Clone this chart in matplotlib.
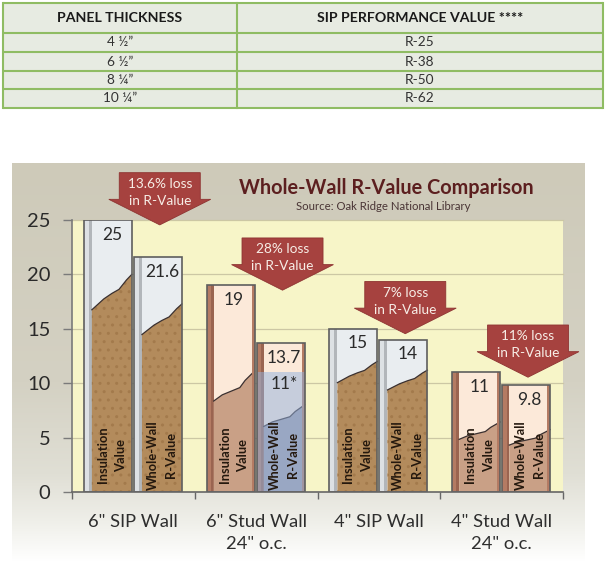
import numpy as np
import matplotlib
matplotlib.use("Agg")
import matplotlib.pyplot as plt
from matplotlib.patches import Rectangle, Polygon
from matplotlib.colors import LinearSegmentedColormap

plt.rcParams['font.family'] = ['Lato', 'DejaVu Sans']

# ---------------- data ----------------
table_headers = ["PANEL THICKNESS", "SIP PERFORMANCE VALUE ****"]
panel_thickness = ["4 ½”", "6 ½”", "8 ¼”", "10 ¼”"]
sip_performance = ["R-25", "R-38", "R-50", "R-62"]

categories = ['6" SIP Wall', '6" Stud Wall\n24" o.c.', '4" SIP Wall', '4" Stud Wall\n24" o.c.']
wall_types = ["sip", "stud", "sip", "stud"]
insulation_value = [25, 19, 15, 11]
whole_wall_value = [21.6, 13.7, 14, 9.8]
insulation_labels = ["25", "19", "15", "11"]
whole_wall_labels = ["21.6", "13.7", "14", "9.8"]
loss_labels = ["13.6% loss", "28% loss", "7% loss", "11% loss"]
stud_note_value = 11
stud_note_label = "11*"
y_ticks = [0, 5, 10, 15, 20, 25]
title = "Whole-Wall R-Value Comparison"
subtitle = "Source: Oak Ridge National Library"
bar_texts = ["Insulation\nValue", "Whole-Wall\nR-Value"]

# decorative fill-line profiles (fraction of bar height across bar width)
sip_profile_x = [0.0, 0.3, 0.5, 0.68, 0.87, 1.0]
sip_profile_y = [0.67, 0.71, 0.73, 0.745, 0.78, 0.80]
stud_profile_x = [0.0, 0.21, 0.64, 0.77, 1.0]
stud_profile_y = [0.44, 0.47, 0.505, 0.54, 0.585]

# ---------------- styles ----------------
W, H = 613, 582
fig = plt.figure(figsize=(W / 100, H / 100), dpi=100)
fig.patch.set_facecolor("white")

bg = fig.add_axes([0, 0, 1, 1], zorder=0)
bg.set_xlim(0, W)
bg.set_ylim(H, 0)
bg.axis("off")

# ---- table ----
tbl_left, tbl_right, tbl_mid = 3, 603, 237
row_edges = [3, 33, 52, 71, 89, 108]
green = "#8fbc63"
bg.add_patch(Rectangle((tbl_left, row_edges[0]), tbl_right - tbl_left,
                       row_edges[-1] - row_edges[0], facecolor="#e7ebe2",
                       edgecolor="none", zorder=1))
for yy in row_edges:
    bg.plot([tbl_left, tbl_right], [yy, yy], color=green, lw=1.5, zorder=2,
            solid_capstyle="butt")
for xx in [tbl_left, tbl_mid, tbl_right]:
    bg.plot([xx, xx], [row_edges[0], row_edges[-1]], color=green, lw=1.5, zorder=2)
c1 = (tbl_left + tbl_mid) / 2
c2 = (tbl_mid + tbl_right) / 2
hy = (row_edges[0] + row_edges[1]) / 2
bg.text(c1, hy, table_headers[0], ha="center", va="center", fontsize=10.2,
        fontweight="bold", color="#1a1a1a", zorder=3)
bg.text(c2, hy, table_headers[1], ha="center", va="center", fontsize=10.2,
        fontweight="bold", color="#1a1a1a", zorder=3)
for i, (a, b) in enumerate(zip(panel_thickness, sip_performance)):
    yy = (row_edges[i + 1] + row_edges[i + 2]) / 2
    bg.text(c1, yy, a, ha="center", va="center", fontsize=9.8, color="#333333", zorder=3)
    bg.text(c2, yy, b, ha="center", va="center", fontsize=9.8, color="#333333", zorder=3)

# ---- chart panel with gradient ----
p_left, p_right, p_top, p_bot = 12, 585, 163, 562
cmap = LinearSegmentedColormap.from_list(
    "panel", [(0.0, "#cecab9"), (0.55, "#d4d1c3"), (0.78, "#e0dfd5"),
              (0.9, "#efefe9"), (1.0, "#ffffff")])
grad = np.linspace(0, 1, 256).reshape(-1, 1)
bg.imshow(grad, cmap=cmap, extent=(p_left, p_right, p_bot, p_top),
          aspect="auto", zorder=0.5, interpolation="bilinear")
bg.set_xlim(0, W)
bg.set_ylim(H, 0)

bg.text(386, 188, title, ha="center", va="center", fontsize=14.3,
        fontweight="bold", color="#5c1f1f", zorder=3)
bg.text(383, 206, subtitle, ha="center", va="center", fontsize=8.2,
        color="#4a3535", zorder=3)

# ---- main axes ----
ax_l, ax_r, ax_t, ax_b = 72, 563, 220, 492
ax = fig.add_axes([ax_l / W, (H - ax_b) / H, (ax_r - ax_l) / W, (ax_b - ax_t) / H],
                  zorder=2)
ax.set_facecolor("#f7f5c8")
ax.set_xlim(0, 4)
ax.set_ylim(0, 25)
for s in ["top", "right"]:
    ax.spines[s].set_visible(False)
ax.spines["left"].set_color("#7a7a7a")
ax.spines["bottom"].set_color("#666666")
ax.spines["left"].set_linewidth(1.2)
ax.spines["bottom"].set_linewidth(1.2)

ax.set_yticks(y_ticks)
ax.set_yticklabels([str(v) for v in y_ticks])
ax.tick_params(axis="y", direction="out", length=6.5, width=1, color="#7a7a7a",
               pad=9, labelsize=14.5, labelcolor="#2a2a2a")
ax.set_xticks(range(len(categories) + 1))
ax.set_xticklabels([])
ax.tick_params(axis="x", which="major", direction="out", length=5, width=1,
               color="#666666")
ax.set_xticks([i + 0.5 for i in range(len(categories))], minor=True)
ax.set_xticklabels(categories, minor=True)
ax.tick_params(axis="x", which="minor", length=0, pad=16, labelsize=13.2,
               labelcolor="#2e2e2e")
for lab in ax.get_xticklabels(minor=True):
    lab.set_linespacing(1.45)
for yv in y_ticks[1:]:
    ax.axhline(yv, color="#ccc7a4", lw=0.9, zorder=0.5, clip_on=False)

bar_w = 0.39
bar_offsets = [0.097, 0.505]

def profile_line(x0, x1, top, px, py):
    xs = [x0 + f * (x1 - x0) for f in px]
    ys = [top * f for f in py]
    return xs, ys

def draw_bar(x0, value, kind, label, vtext, overlay=None):
    if kind == "sip":
        top_c, strip_c, strip2_c, fill_c, hatch_c = "#e9edf0", "#dde1e4", "#b2b6ba", "#b38b5c", "#a37a4c"
        strip_w = 0.065
        px, py = sip_profile_x, sip_profile_y
    else:
        top_c, strip_c, strip2_c, fill_c, hatch_c = "#fce9d9", "#b47b63", "#9a6450", "#c9a086", "#b88a70"
        strip_w = 0.057
        px, py = stud_profile_x, stud_profile_y
    x1 = x0 + bar_w
    ax.add_patch(Rectangle((x0, 0), bar_w, value, facecolor=top_c, edgecolor="none", zorder=2))
    ax.add_patch(Rectangle((x0, 0), strip_w * 0.62, value, facecolor=strip_c, edgecolor="none", zorder=2.1))
    ax.add_patch(Rectangle((x0 + strip_w * 0.62, 0), strip_w * 0.38, value, facecolor=strip2_c,
                           edgecolor="none", zorder=2.1))
    ix0 = x0 + strip_w
    fill_col = fill_c
    if overlay is not None:
        fill_col = "#a29ca6"
    xs, ys = profile_line(ix0, x1, value, px, py)
    poly = [(ix0, 0)] + list(zip(xs, ys)) + [(x1, 0)]
    ax.add_patch(Polygon(poly, closed=True, facecolor=fill_col, edgecolor="none", zorder=2.2))
    if kind == "sip":
        ax.add_patch(Polygon(poly, closed=True, fill=False, hatch="..", edgecolor=hatch_c,
                             linewidth=0, zorder=2.25))
    ax.plot(xs, ys, color="#3a3030", lw=0.9, zorder=2.3)
    if kind == "stud":
        ax.add_patch(Rectangle((x1 - 0.022, 0), 0.022, value, facecolor=strip_c,
                               edgecolor="none", zorder=2.3))
    if overlay is not None:
        ax.add_patch(Rectangle((x0, 0), bar_w, overlay, facecolor="#92b2e0", alpha=0.5,
                               edgecolor="none", zorder=2.4))
        ax.text(ix0 + (x1 - ix0) / 2, overlay - 1.05, stud_note_label, ha="center",
                va="center", fontsize=12.5, color="#2a2a2a", zorder=3)
    ax.add_patch(Rectangle((x0, 0), bar_w, value, facecolor="none", edgecolor="#5e5e5e",
                           lw=1.2, zorder=2.5))
    cx = ix0 + (x1 - ix0) / 2
    ax.text(cx, value - 1.35, label, ha="center", va="center", fontsize=12.5,
            color="#2a2a2a", zorder=3)
    ax.text(cx, 3.4, vtext, ha="center", va="center", rotation=90, fontsize=9.3,
            fontweight="bold", color="#24180e", linespacing=1.65, zorder=3)

for i, kind in enumerate(wall_types):
    draw_bar(i + bar_offsets[0], insulation_value[i], kind, insulation_labels[i], bar_texts[0])
    draw_bar(i + bar_offsets[1], whole_wall_value[i], kind, whole_wall_labels[i], bar_texts[1],
             overlay=stud_note_value if (kind == "stud" and i == 1) else None)

# ---- loss arrows ----
arrow_c = "#a6423f"
body_w, head_w, body_h, head_h = 0.66, 0.83, 2.45, 2.35
for i, txt in enumerate(loss_labels):
    cx = i + 0.715
    tip = insulation_value[i] - 0.45
    top = tip + body_h + head_h
    bb = tip + head_h
    pts = [(cx - body_w / 2, top), (cx + body_w / 2, top), (cx + body_w / 2, bb),
           (cx + head_w / 2, bb), (cx, tip), (cx - head_w / 2, bb), (cx - body_w / 2, bb)]
    ax.add_patch(Polygon(pts, closed=True, facecolor=arrow_c, edgecolor="#8e3432",
                         lw=0.6, zorder=4, clip_on=False))
    ax.text(cx, top - 1.8, txt + "\nin R-Value", ha="center", va="center",
            fontsize=9.8, color="#f7ede6", linespacing=1.5, zorder=5, clip_on=False)

fig.savefig("out.png", dpi=100)
